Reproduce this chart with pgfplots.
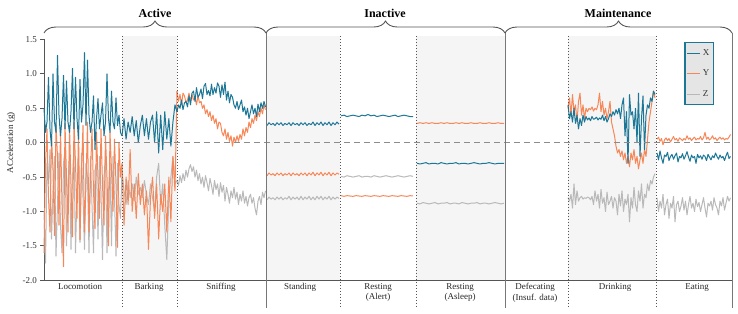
\documentclass[border=0pt]{standalone}
\usepackage{fontspec}
\setmainfont{Liberation Serif}
\usepackage{pgfplots}
\pgfplotsset{compat=1.18}
\usepackage{pgfplotstable}
\usetikzlibrary{decorations.pathreplacing}
\definecolor{cx}{RGB}{28,118,150}
\definecolor{cy}{RGB}{246,135,88}
\definecolor{cz}{RGB}{185,185,185}
\definecolor{shd}{RGB}{245,245,245}
\definecolor{sep}{RGB}{85,85,85}

% Locomotion: x = 44 + 1.5 i
\pgfplotstableread{
X Y Z
0.5 -1.6 -1.0
0.15 -0.3 -1.75
0.3 0.2 -0.3
0.95 -0.8 -0.6
0.2 -1.3 -0.1
-0.05 0.1 -1.4
1.0 -0.4 -0.7
0.3 -1.35 -0.2
0.15 0.25 -1.65
1.27 -0.2 -0.9
0.4 -1.2 -0.15
0.1 0.2 -1.2
0.35 -0.9 -1.6
0.98 -1.8 -0.3
0.2 0.28 -0.1
0.9 -0.5 -1.5
0.3 -1.3 -0.6
0.15 0.25 -0.2
0.45 -0.6 -1.55
1.08 -1.37 -0.5
0.2 0.3 -0.1
0.95 -0.3 -1.6
0.35 -1.1 -0.7
0.05 0.2 -0.2
0.92 -1.41 -1.45
0.3 -0.4 -0.15
0.55 0.25 -0.8
1.31 -1.3 -1.55
0.25 -0.6 -0.3
1.2 0.3 -0.5
0.4 -1.3 -1.6
0.15 -0.45 -0.2
0.3 0.2 -0.9
0.68 -0.7 -1.6
-0.1 -1.25 -0.4
0.35 0.15 -0.3
0.64 -0.5 -1.4
0.2 -1.1 -0.2
0.4 0.2 -0.7
0.58 -0.6 -1.7
0.1 -1.2 -0.5
0.3 0.1 -0.2
1.0 -0.5 -1.6
0.35 -1.5 -0.7
0.15 0.15 -0.3
0.75 -0.4 -1.5
0.3 -1.0 -0.2
0.2 0.05 -0.8
0.65 -0.6 -1.65
0.25 -1.52 -0.3
0.4 0.0 -0.9
0.15 -0.5 -1.1
0.1 -0.3 -0.4
}\loco

% Barking: x = 122 + 2.037 i
\pgfplotstableread{
X Y Z
0.1 -0.3 -0.4
0.35 -1.2 -0.7
0.05 -0.5 -0.9
0.3 -0.9 -0.55
0.15 -0.1 -0.8
0.38 -1.0 -0.6
0.1 -0.6 -0.85
0.32 -1.1 -0.5
0.0 -0.45 -0.75
0.25 -0.9 -0.65
0.4 -0.6 -0.8
0.1 -1.05 -0.55
0.35 -0.7 -0.75
0.05 -1.55 -0.9
0.3 -0.8 -0.6
0.4 -0.5 -0.8
0.0 -1.1 -1.0
0.45 -0.6 -0.5
-0.15 -1.4 -0.3
0.4 -0.75 -0.9
-0.1 -1.0 -0.6
0.45 -0.6 -1.2
0.05 -1.3 -1.7
0.35 -0.5 -0.8
-0.05 -1.15 -0.5
0.3 -0.2 -0.2
0.55 -0.7 -0.6
0.45 0.75 -0.55
}\bark

% Sniffing: x = 177 + 1.5 i
\pgfplotstableread{
X Y Z
0.45 0.75 -0.55
0.55 0.6 -0.62
0.5 0.7 -0.48
0.62 0.55 -0.58
0.48 0.72 -0.45
0.58 0.68 -0.55
0.6 0.58 -0.4
0.52 0.62 -0.5
0.68 0.72 -0.38
0.55 0.6 -0.32
0.72 0.7 -0.42
0.75 0.62 -0.35
0.6 0.66 -0.5
0.8 0.55 -0.4
0.66 0.68 -0.55
0.7 0.58 -0.45
0.78 0.6 -0.6
0.64 0.5 -0.5
0.82 0.55 -0.65
0.86 0.42 -0.48
0.7 0.48 -0.58
0.76 0.38 -0.7
0.68 0.45 -0.52
0.85 0.32 -0.62
0.7 0.4 -0.75
0.8 0.28 -0.55
0.72 0.35 -0.68
0.87 0.2 -0.6
0.82 0.3 -0.78
0.66 0.28 -0.58
0.84 0.15 -0.72
0.7 0.1 -0.62
0.88 0.2 -0.85
0.62 0.05 -0.65
0.75 0.15 -0.75
0.58 0.02 -0.88
0.7 0.1 -0.7
0.66 -0.05 -0.8
0.55 0.08 -0.65
0.5 0.0 -0.82
0.6 0.1 -0.72
0.48 0.02 -0.9
0.55 0.12 -0.75
0.62 0.05 -0.85
0.45 0.2 -0.7
0.52 0.1 -0.88
0.4 0.22 -0.78
0.5 0.15 -0.92
0.35 0.3 -0.8
0.45 0.22 -0.75
0.55 0.35 -0.88
0.42 0.28 -0.8
0.5 0.4 -0.95
0.38 0.32 -1.05
0.56 0.45 -0.85
0.45 0.38 -0.78
0.58 0.5 -0.9
0.5 0.42 -0.72
0.6 0.55 -0.8
0.52 0.48 -0.7
}\sniff

% Standing: x = 267 + 2 i
\pgfplotstableread{
X Y Z
0.25 -0.48 -0.83
0.29 -0.44 -0.79
0.26 -0.47 -0.82
0.28 -0.45 -0.80
0.25 -0.48 -0.83
0.29 -0.44 -0.79
0.26 -0.47 -0.82
0.29 -0.44 -0.79
0.25 -0.48 -0.83
0.28 -0.45 -0.80
0.26 -0.47 -0.82
0.29 -0.44 -0.78
0.25 -0.48 -0.83
0.29 -0.44 -0.79
0.26 -0.47 -0.82
0.28 -0.45 -0.79
0.25 -0.48 -0.83
0.29 -0.44 -0.78
0.26 -0.47 -0.83
0.29 -0.44 -0.79
0.25 -0.48 -0.82
0.28 -0.44 -0.78
0.26 -0.47 -0.83
0.30 -0.43 -0.79
0.25 -0.48 -0.83
0.29 -0.44 -0.78
0.26 -0.47 -0.82
0.30 -0.43 -0.78
0.25 -0.48 -0.83
0.29 -0.44 -0.79
0.26 -0.47 -0.82
0.30 -0.43 -0.78
0.25 -0.48 -0.83
0.29 -0.44 -0.79
0.26 -0.47 -0.82
0.30 -0.44 -0.79
0.27 -0.46 -0.81
}\stand

% Resting (Alert): x = 341 + 3 i
\pgfplotstableread{
X Y Z
0.39 -0.77 -0.49
0.40 -0.78 -0.50
0.38 -0.77 -0.48
0.39 -0.775 -0.49
0.40 -0.78 -0.50
0.39 -0.77 -0.49
0.38 -0.775 -0.48
0.40 -0.78 -0.50
0.39 -0.77 -0.49
0.41 -0.775 -0.49
0.39 -0.78 -0.50
0.40 -0.77 -0.48
0.38 -0.775 -0.49
0.39 -0.78 -0.50
0.40 -0.77 -0.49
0.39 -0.775 -0.48
0.38 -0.78 -0.49
0.39 -0.77 -0.50
0.40 -0.775 -0.49
0.38 -0.78 -0.48
0.39 -0.77 -0.49
0.40 -0.775 -0.50
0.39 -0.78 -0.49
0.38 -0.77 -0.48
0.38 -0.775 -0.49
}\ralert

% Resting (Asleep): x = 417 + 3 i
\pgfplotstableread{
X Y Z
-0.30 0.28 -0.88
-0.31 0.29 -0.89
-0.30 0.28 -0.87
-0.29 0.29 -0.88
-0.31 0.28 -0.89
-0.30 0.29 -0.88
-0.30 0.28 -0.87
-0.31 0.28 -0.89
-0.29 0.29 -0.88
-0.30 0.28 -0.88
-0.31 0.29 -0.87
-0.30 0.28 -0.89
-0.30 0.28 -0.88
-0.29 0.29 -0.88
-0.31 0.28 -0.89
-0.30 0.29 -0.87
-0.30 0.28 -0.88
-0.31 0.28 -0.89
-0.30 0.29 -0.88
-0.29 0.28 -0.88
-0.30 0.28 -0.87
-0.31 0.29 -0.89
-0.30 0.28 -0.88
-0.30 0.28 -0.88
-0.29 0.29 -0.89
-0.30 0.28 -0.88
-0.31 0.28 -0.87
-0.30 0.29 -0.88
-0.30 0.28 -0.89
-0.30 0.28 -0.88
}\rasleep

% Drinking: x = 568 + 1.5 i
\pgfplotstableread{
X Y Z
0.55 0.5 -0.8
0.35 0.65 -0.85
0.45 0.4 -0.75
0.3 0.7 -0.95
0.5 0.45 -0.6
0.28 0.55 -0.9
0.4 0.3 -0.7
0.2 0.6 -0.85
0.35 0.72 -0.8
0.25 0.4 -0.78
0.4 0.55 -0.82
0.3 0.35 -0.8
0.38 0.5 -0.81
0.33 0.45 -0.79
0.36 0.5 -0.8
0.32 0.48 -0.83
0.38 0.52 -0.78
0.34 0.46 -0.9
0.35 0.5 -0.7
0.37 0.48 -0.85
0.33 0.55 -0.75
0.36 0.72 -0.95
0.34 0.45 -0.68
0.4 0.6 -0.88
0.32 0.4 -0.8
0.38 0.5 -1.0
0.3 0.35 -0.72
0.35 0.45 -0.9
0.42 0.6 -0.85
0.38 0.3 -0.78
0.45 0.2 -0.95
0.4 0.1 -0.8
0.48 -0.05 -0.85
0.42 -0.15 -1.05
0.5 -0.1 -0.75
0.35 -0.2 -0.92
0.55 -0.12 -0.7
0.65 -0.25 -1.0
0.1 -0.15 -0.82
0.45 -0.3 -0.9
-0.3 -0.2 -0.75
0.7 -0.35 -1.15
0.4 -0.15 -0.8
0.45 -0.25 -0.95
0.2 -0.1 -0.65
0.5 -0.3 -0.9
0.0 -0.2 -1.0
0.72 -0.38 -0.7
-0.2 -0.25 -0.85
0.35 -0.15 -0.6
0.68 -0.3 -0.95
-0.1 -0.1 -0.75
0.4 -0.2 -0.8
0.55 0.05 -0.6
0.5 0.3 -0.7
0.65 0.45 -0.55
0.6 0.6 -0.6
0.75 0.75 -0.5
0.7 0.65 -0.45
}\drink

% Eating: x = 657 + 1.5 i
\pgfplotstableread{
X Y Z
-0.15 0.05 -0.8
-0.25 0.08 -1.0
-0.12 0.02 -0.85
-0.22 0.06 -0.95
-0.3 -0.03 -0.75
-0.18 0.04 -1.05
-0.2 0.07 -0.9
-0.14 0.03 -0.82
-0.26 0.06 -1.1
-0.2 0.01 -0.88
-0.17 0.05 -0.95
-0.24 0.09 -0.78
-0.19 0.04 -1.15
-0.15 0.06 -0.9
-0.28 0.02 -0.85
-0.2 0.07 -1.0
-0.22 0.05 -0.92
-0.16 0.03 -0.8
-0.24 0.06 -0.98
-0.19 0.04 -0.85
-0.13 0.1 -1.05
-0.21 0.05 -0.9
-0.27 0.07 -0.78
-0.18 0.03 -0.95
-0.22 0.06 -0.88
-0.2 0.08 -1.0
-0.3 0.04 -0.82
-0.17 0.06 -0.93
-0.22 0.05 -0.87
-0.19 0.09 -1.0
-0.24 0.04 -0.9
-0.18 0.07 -0.8
-0.2 0.15 -0.95
-0.26 0.05 -1.08
-0.17 0.08 -0.88
-0.21 0.04 -0.92
-0.25 0.06 -0.85
-0.19 0.1 -0.98
-0.22 0.05 -0.8
-0.15 0.07 -0.9
-0.2 0.03 -0.95
-0.24 0.06 -1.05
-0.18 0.08 -0.85
-0.22 0.05 -0.92
-0.2 0.07 -0.8
-0.26 0.04 -0.98
-0.19 0.06 -0.88
-0.14 0.05 -0.78
-0.23 0.08 -0.85
-0.2 0.12 -0.8
}\eat

\begin{document}
\begin{tikzpicture}
\begin{axis}[
  width=688pt, height=240.8pt, scale only axis,
  xmin=44, xmax=732, ymin=-2, ymax=1.5,
  axis x line=bottom, axis y line=left,
  axis line style={-, draw=sep, line width=0.8pt},
  xtick=\empty,
  ytick={-2,-1.5,...,1.5},
  yticklabel style={/pgf/number format/.cd, fixed, fixed zerofill, precision=1, assume math mode=true},
  tick align=outside, major tick length=3.5pt,
  tick style={draw=sep, line width=0.8pt},
  ticklabel style={font=\fontsize{9}{10}\selectfont, text=black!80},
  clip=false,
  no markers,
  legend style={at={(axis cs:714,1.464)}, anchor=north east, fill=black!10, draw=cx, line width=1.3pt,
    font=\fontsize{9}{10}\selectfont, row sep=9pt, inner ysep=5pt, inner xsep=2pt, text=black!80},
  legend cell align=left,
  legend image code/.code={\draw[#1] (0pt,0pt) -- (13pt,0pt);},
  xs/.style={cx, line width=1pt, line join=round, forget plot},
  ys/.style={cy, line width=1pt, line join=round, forget plot},
  zs/.style={cz, line width=1pt, line join=round, forget plot},
]
% shaded backgrounds
\fill[shd] (axis cs:122,-2) rectangle (axis cs:177,1.551);
\fill[shd] (axis cs:266,-2) rectangle (axis cs:340,1.551);
\fill[shd] (axis cs:416,-2) rectangle (axis cs:505,1.551);
\fill[shd] (axis cs:568,-2) rectangle (axis cs:656,1.551);

\addlegendimage{cx, line width=0.9pt}
\addlegendentry{X}
\addlegendimage{cy, line width=0.9pt}
\addlegendentry{Y}
\addlegendimage{cz, line width=0.9pt}
\addlegendentry{Z}

% Z
\addplot[zs] table[x expr=\coordindex*1.5+44, y=Z] {\loco};
\addplot[zs] table[x expr=\coordindex*2.037+122, y=Z] {\bark};
\addplot[zs] table[x expr=\coordindex*1.5+177, y=Z] {\sniff};
\addplot[zs] table[x expr=\coordindex*2+267, y=Z] {\stand};
\addplot[zs] table[x expr=\coordindex*3+341, y=Z] {\ralert};
\addplot[zs] table[x expr=\coordindex*3+417, y=Z] {\rasleep};
\addplot[zs] table[x expr=\coordindex*1.5+568, y=Z] {\drink};
\addplot[zs] table[x expr=\coordindex*1.5+657, y=Z] {\eat};
% Y
\addplot[ys] table[x expr=\coordindex*1.5+44, y=Y] {\loco};
\addplot[ys] table[x expr=\coordindex*2.037+122, y=Y] {\bark};
\addplot[ys] table[x expr=\coordindex*1.5+177, y=Y] {\sniff};
\addplot[ys] table[x expr=\coordindex*2+267, y=Y] {\stand};
\addplot[ys] table[x expr=\coordindex*3+341, y=Y] {\ralert};
\addplot[ys] table[x expr=\coordindex*3+417, y=Y] {\rasleep};
\addplot[ys] table[x expr=\coordindex*1.5+568, y=Y] {\drink};
\addplot[ys] table[x expr=\coordindex*1.5+657, y=Y] {\eat};
% X
\addplot[xs] table[x expr=\coordindex*1.5+44, y=X] {\loco};
\addplot[xs] table[x expr=\coordindex*2.037+122, y=X] {\bark};
\addplot[xs] table[x expr=\coordindex*1.5+177, y=X] {\sniff};
\addplot[xs] table[x expr=\coordindex*2+267, y=X] {\stand};
\addplot[xs] table[x expr=\coordindex*3+341, y=X] {\ralert};
\addplot[xs] table[x expr=\coordindex*3+417, y=X] {\rasleep};
\addplot[xs] table[x expr=\coordindex*1.5+568, y=X] {\drink};
\addplot[xs] table[x expr=\coordindex*1.5+657, y=X] {\eat};

% zero line
\draw[black!45, line width=0.9pt, dash pattern=on 6pt off 4pt] (axis cs:44,0) -- (axis cs:732,0);

% separators
\draw[sep, line width=0.7pt, dash pattern=on 1.5pt off 1.5pt] (axis cs:122,1.551) -- (axis cs:122,-2.40);
\draw[sep, line width=0.7pt, dash pattern=on 1.5pt off 1.5pt] (axis cs:177,1.551) -- (axis cs:177,-2.40);
\draw[sep, line width=0.7pt, dash pattern=on 1.5pt off 1.5pt] (axis cs:340,1.551) -- (axis cs:340,-2.40);
\draw[sep, line width=0.7pt, dash pattern=on 1.5pt off 1.5pt] (axis cs:416,1.551) -- (axis cs:416,-2.40);
\draw[sep, line width=0.7pt, dash pattern=on 1.5pt off 1.5pt] (axis cs:568,1.551) -- (axis cs:568,-2.40);
\draw[sep, line width=0.7pt, dash pattern=on 1.5pt off 1.5pt] (axis cs:656,1.551) -- (axis cs:656,-2.40);
\draw[sep!80, line width=0.9pt] (axis cs:266,1.594) -- (axis cs:266,-2.40);
\draw[sep!80, line width=0.9pt] (axis cs:505,1.594) -- (axis cs:505,-2.40);
\draw[sep!80, line width=0.9pt] (axis cs:732,1.594) -- (axis cs:732,-2.40);

% braces
\draw[sep, line width=0.9pt, decorate, decoration={brace, amplitude=12pt}] (axis cs:44,1.594) -- (axis cs:266,1.594);
\draw[sep, line width=0.9pt, decorate, decoration={brace, amplitude=12pt}] (axis cs:266,1.594) -- (axis cs:505,1.594);
\draw[sep, line width=0.9pt, decorate, decoration={brace, amplitude=12pt}] (axis cs:505,1.594) -- (axis cs:732,1.594);
\node[font=\bfseries\fontsize{12}{14}\selectfont] at (axis cs:155,1.885) {Active};
\node[font=\bfseries\fontsize{12}{14}\selectfont] at (axis cs:385,1.885) {Inactive};
\node[font=\bfseries\fontsize{12}{14}\selectfont] at (axis cs:618,1.885) {Maintenance};

% category labels
\node[anchor=north, align=center, font=\fontsize{9}{10.5}\selectfont, text=black!85, inner sep=0pt] at (axis cs:80,-2.04) {Locomotion};
\node[anchor=north, align=center, font=\fontsize{9}{10.5}\selectfont, text=black!85, inner sep=0pt] at (axis cs:149,-2.04) {Barking};
\node[anchor=north, align=center, font=\fontsize{9}{10.5}\selectfont, text=black!85, inner sep=0pt] at (axis cs:221,-2.04) {Sniffing};
\node[anchor=north, align=center, font=\fontsize{9}{10.5}\selectfont, text=black!85, inner sep=0pt] at (axis cs:300,-2.04) {Standing};
\node[anchor=north, align=center, font=\fontsize{9}{10.5}\selectfont, text=black!85, inner sep=0pt] at (axis cs:378,-2.04) {Resting\\(Alert)};
\node[anchor=north, align=center, font=\fontsize{9}{10.5}\selectfont, text=black!85, inner sep=0pt] at (axis cs:460,-2.04) {Resting\\(Asleep)};
\node[anchor=north, align=center, font=\fontsize{9}{10.5}\selectfont, text=black!85, inner sep=0pt] at (axis cs:535,-2.04) {Defecating\\(Insuf. data)};
\node[anchor=north, align=center, font=\fontsize{9}{10.5}\selectfont, text=black!85, inner sep=0pt] at (axis cs:615,-2.04) {Drinking};
\node[anchor=north, align=center, font=\fontsize{9}{10.5}\selectfont, text=black!85, inner sep=0pt] at (axis cs:697,-2.04) {Eating};

\node[rotate=90, font=\fontsize{9}{10}\selectfont, text=black!85] at (axis cs:11,0) {ACceleration (g)};

\coordinate (bl) at (axis cs:0,-2.49);
\coordinate (tr) at (axis cs:738,2.074);
\end{axis}
\pgfresetboundingbox
\path (bl) rectangle (tr);
\end{tikzpicture}
\end{document}
